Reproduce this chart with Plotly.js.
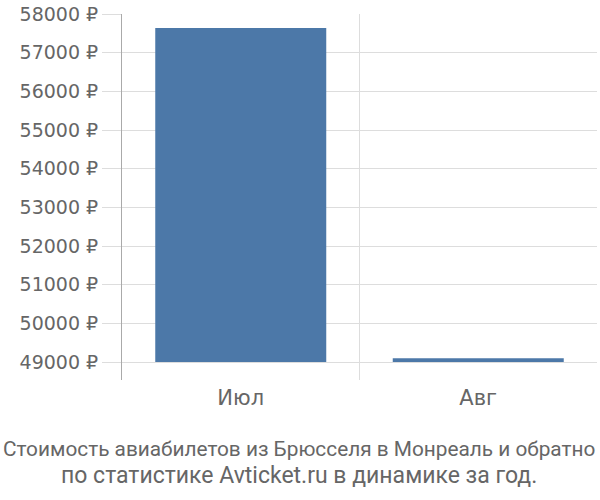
<!DOCTYPE html>
<html>
<head>
<meta charset="utf-8">
<script src="https://cdn.plot.ly/plotly-3.0.1.min.js"></script>
<style>html,body{margin:0;padding:0;background:#fff}#chart{width:600px;height:500px}</style>
</head>
<body>
<div id="chart"></div>
<script>
const categories = ["Июл", "Авг"];
const prices = [57640, 49095];
const baseValue = 49000;
const yTickValues = [49000, 50000, 51000, 52000, 53000, 54000, 55000, 56000, 57000, 58000];
const yTickLabels = yTickValues.map(v => v + " ₽");
const titleLines = [
  "Стоимость авиабилетов из Брюсселя в Монреаль и обратно",
  "по статистике Avticket.ru в динамике за год."
];

const trace = {
  type: "bar",
  x: categories,
  y: prices.map(v => v - baseValue),
  base: baseValue,
  width: 0.72,
  marker: {color: "#4c78a8", line: {width: 0}},
  hoverinfo: "skip"
};

const yTickFont = {size: 19, color: "#666", family: "'DejaVu Sans', sans-serif"};
const xTickFont = {size: 21, color: "#666", family: "'DejaVu Sans', sans-serif"};
const titleSizes = [20.8, 23];

const layout = {
  width: 600, height: 500,
  margin: {l: 122, r: 3, t: 14, b: 120},
  paper_bgcolor: "#fff", plot_bgcolor: "#fff",
  showlegend: false,
  xaxis: {
    type: "category",
    range: [-0.5, 1.5],
    tickson: "boundaries",
    showgrid: true, gridcolor: "#dddddd", gridwidth: 1,
    ticks: "", ticklen: 0,
    showline: false, zeroline: false,
    tickfont: xTickFont,
    ticklabelstandoff: 3
  },
  yaxis: {
    range: [48535, 58000],
    tickvals: yTickValues,
    ticktext: yTickLabels,
    showgrid: true, gridcolor: "#dddddd", gridwidth: 1,
    ticks: "outside", ticklen: 19, tickcolor: "#dddddd", tickwidth: 1,
    showline: true, linecolor: "#aaaaaa", linewidth: 1,
    zeroline: false,
    tickfont: yTickFont
  },
  annotations: titleLines.map((t, i) => ({
    text: t,
    xref: "paper", yref: "paper",
    x: 0.5, xanchor: "center",
    xshift: -61,
    y: 0, yanchor: "middle",
    yshift: -(449 + 26 * i - 380),
    showarrow: false,
    font: {size: titleSizes[i], color: "#666", family: "Roboto, sans-serif"}
  }))
};

Plotly.newPlot("chart", [trace], layout, {displayModeBar: false, staticPlot: true});
</script>
</body>
</html>
